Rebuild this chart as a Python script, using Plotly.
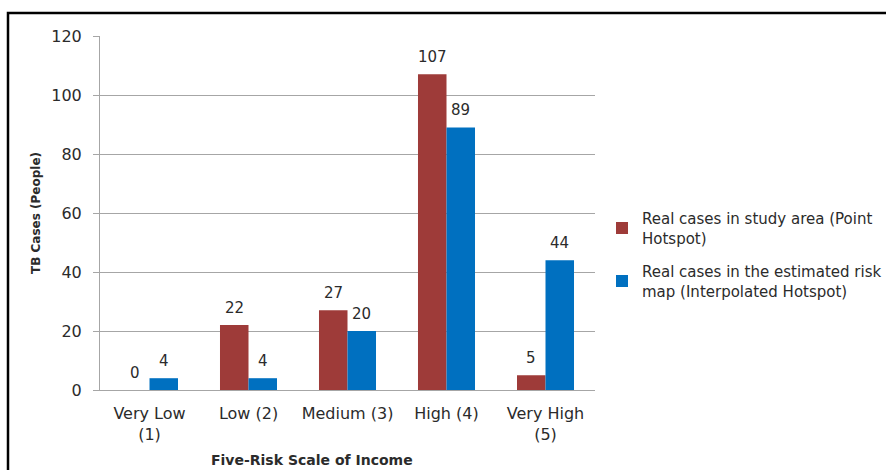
import plotly.graph_objects as go

# Income risk classes and TB case counts
categories = ["Very Low<br>(1)", "Low (2)", "Medium (3)", "High (4)", "Very High<br>(5)"]
point_hotspot = [0, 22, 27, 107, 5]
interpolated_hotspot = [4, 4, 20, 89, 44]
series_names = [
    "Real cases in study area (Point<br>Hotspot)",
    "Real cases in the estimated risk<br>map (Interpolated Hotspot)",
]
y_ticks = [0, 20, 40, 60, 80, 100, 120]

RED = "#9E3B39"
BLUE = "#0070C0"
TEXT = "#2b2b2b"
GRID = "#A6A6A6"
FONT = "DejaVu Sans"

W, H = 886, 470
L, R, T, B = 100, 291, 36, 80   # plot area: x 100..595, y 36..390
BAR_PX = 28.5                    # rendered width of one bar


def px_to_paper(x, y):
    pw, ph = W - L - R, H - T - B
    return (x - L) / pw, (H - B - y) / ph


fig = go.Figure()
series = [
    (series_names[0], point_hotspot, RED, -BAR_PX / 2, "a"),
    (series_names[1], interpolated_hotspot, BLUE, BAR_PX / 2, "b"),
]
for name, vals, color, shift, grp in series:
    fig.add_trace(go.Bar(
        x=categories, y=vals, name=name, legendgroup=grp,
        marker=dict(color=color, line=dict(width=0)),
    ))
    # value labels above each bar
    for cat, v in zip(categories, vals):
        fig.add_annotation(x=cat, y=v, text=str(v), showarrow=False,
                           xanchor="center", yanchor="middle",
                           xshift=shift, yshift=17,
                           font=dict(family=FONT, size=15, color=TEXT))

# outer frame
x0, y0 = px_to_paper(8, 13)
x1, y1 = px_to_paper(900, 480)
fig.add_shape(type="rect", xref="paper", yref="paper",
              x0=x0, y0=y1, x1=x1, y1=y0,
              line=dict(color="black", width=2.5), layer="above")

# axis titles
ax, ay = px_to_paper(36, 213)
fig.add_annotation(text="<b>TB Cases (People)</b>", xref="paper", yref="paper",
                   x=ax, y=ay, textangle=-90, showarrow=False,
                   xanchor="center", yanchor="middle",
                   font=dict(family=FONT, size=12, color=TEXT))
bx, by = px_to_paper(312, 460)
fig.add_annotation(text="<b>Five-Risk Scale of Income</b>", xref="paper", yref="paper",
                   x=bx, y=by, showarrow=False,
                   xanchor="center", yanchor="middle",
                   font=dict(family=FONT, size=14, color=TEXT))

lx, ly = px_to_paper(602, 202)
fig.update_layout(
    width=W, height=H,
    margin=dict(l=L, r=R, t=T, b=B, autoexpand=False),
    paper_bgcolor="white", plot_bgcolor="white",
    barmode="group", bargap=0.424, bargroupgap=0,
    showlegend=True,
    legend=dict(x=lx, y=ly, xanchor="left", yanchor="top",
                font=dict(family=FONT, size=15, color=TEXT),
                itemwidth=30, tracegroupgap=11, traceorder="grouped",
                bgcolor="rgba(0,0,0,0)"),
    xaxis=dict(showline=True, linecolor=GRID, linewidth=1, ticks="",
               tickfont=dict(family=FONT, size=16, color=TEXT),
               ticklabelstandoff=9,
               showgrid=False, zeroline=False),
    yaxis=dict(range=[0, 120], tickvals=y_ticks, showgrid=True,
               gridcolor=GRID, gridwidth=1, showline=True, linecolor=GRID,
               linewidth=1, ticks="outside", ticklen=6, tickcolor=GRID,
               tickfont=dict(family=FONT, size=16, color=TEXT),
               ticklabelstandoff=8,
               zeroline=False),
)

fig.write_html("out.html")
